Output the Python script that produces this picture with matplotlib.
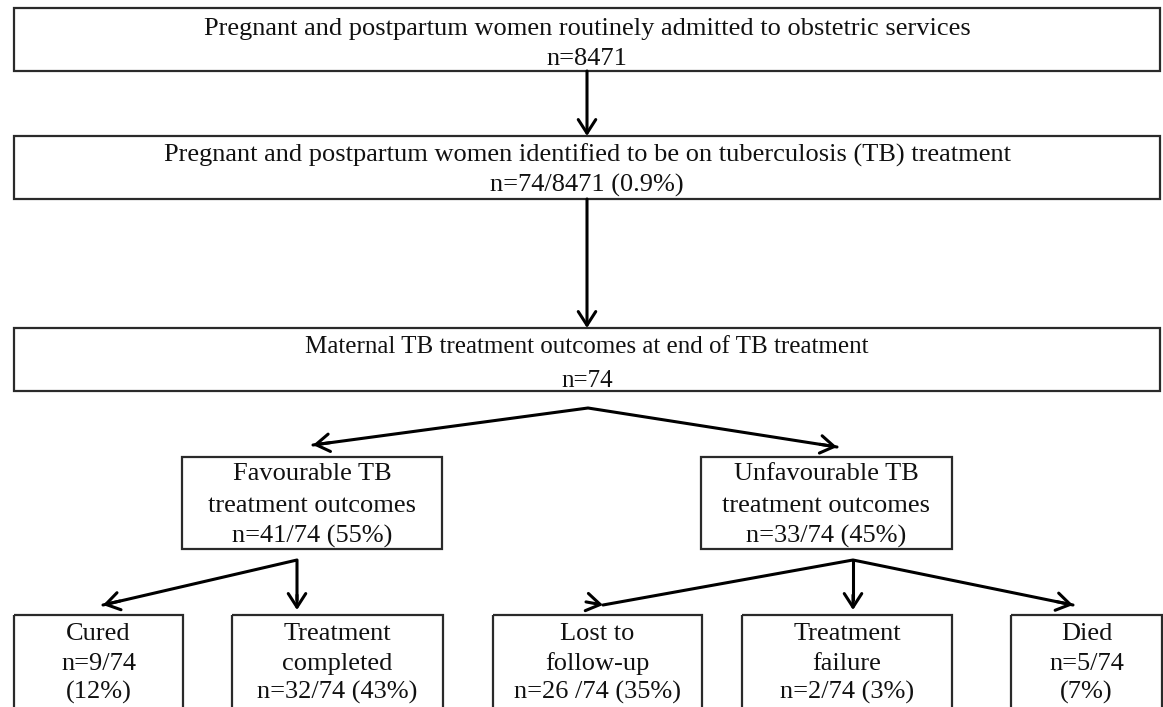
import matplotlib
matplotlib.use('Agg')
import matplotlib.pyplot as plt
from matplotlib.patches import Rectangle

# counts shown in the flow diagram
admitted = 8471
on_tb = 74
outcome_names = [['Favourable TB', 'treatment outcomes'], ['Unfavourable TB', 'treatment outcomes']]
outcome_n = [41, 33]
outcome_pct = ['55%', '45%']
sub_names = [['Cured'], ['Treatment', 'completed'], ['Lost to', 'follow-up'],
             ['Treatment', 'failure'], ['Died']]
sub_n = [9, 32, 26, 2, 5]
sub_pct = ['12%', '43%', '35%', '3%', '7%']
sub_slash = ['/', '/', ' /', '/', '/']


def main():
    plt.rcParams['font.family'] = ['Liberation Serif', 'DejaVu Serif']
    fig = plt.figure(figsize=(11.63, 7.07), dpi=100)
    ax = fig.add_axes([0, 0, 1, 1])
    ax.set_xlim(0, 1163)
    ax.set_ylim(707, 0)
    ax.axis('off')

    edge = '#2a2a2a'

    def box(x0, x1, y0, y1, lines, baselines, fs=19):
        ax.add_patch(Rectangle((x0, y0), x1 - x0, y1 - y0, fill=False,
                               edgecolor=edge, linewidth=1.6))
        for t, yb in zip(lines, baselines):
            ax.text((x0 + x1) / 2, yb, t, ha='center', va='baseline',
                    fontsize=fs, color='#111111')

    def arrow(p0, p1):
        ax.annotate('', xy=p1, xytext=p0,
                    arrowprops=dict(arrowstyle='->,head_length=0.7,head_width=0.45',
                                    mutation_scale=14, lw=2.2, color='black',
                                    shrinkA=0, shrinkB=0))

    def line(pts):
        ax.plot([p[0] for p in pts], [p[1] for p in pts], color='black', lw=2.2,
                solid_capstyle='round', solid_joinstyle='round')

    # top stages
    box(14, 1160, 8, 71,
        ['Pregnant and postpartum women routinely admitted to obstetric services',
         'n=%d' % admitted], [35, 65])
    box(14, 1160, 136, 199,
        ['Pregnant and postpartum women identified to be on tuberculosis (TB) treatment',
         'n=%d/%d (%.1f%%)' % (on_tb, admitted, 100 * on_tb / admitted)], [162, 192])
    box(14, 1160, 328, 391,
        ['Maternal TB treatment outcomes at end of TB treatment', 'n=%d' % on_tb],
        [353, 387], fs=18)
    arrow((587, 71), (587, 136))
    arrow((587, 199), (587, 328))

    # favourable / unfavourable
    mid_x = [(182, 442), (701, 952)]
    for (x0, x1), name, n, p in zip(mid_x, outcome_names, outcome_n, outcome_pct):
        box(x0, x1, 457, 549, name + ['n=%d/%d (%s)' % (n, on_tb, p)], [480, 512, 543])
    line([(313, 445), (588, 408), (837, 447)])
    arrow((330, 442.7), (313, 445))
    arrow((820, 444.3), (837, 447))

    # final outcomes
    sub_x = [(14, 183), (232, 443), (493, 702), (742, 952), (1011, 1162)]
    for (x0, x1), name, n, p, sl in zip(sub_x, sub_names, sub_n, sub_pct, sub_slash):
        if len(name) == 1:
            rows = name + ['n=%d%s%d' % (n, sl, on_tb), '(%s)' % p]
        else:
            rows = name + ['n=%d%s%d (%s)' % (n, sl, on_tb, p)]
        box(x0, x1, 615, 712, rows, [640, 670, 699])

    line([(103, 605), (297, 560), (297, 600)])
    arrow((120, 601), (103, 605))
    arrow((297, 595), (297, 610))
    line([(603, 605), (853, 560), (1073, 605)])
    line([(853, 560), (853, 600)])
    arrow((586, 601.9), (603, 605))
    arrow((853, 595), (853, 610))
    arrow((1056, 601.5), (1073, 605))

    fig.savefig('out.png', dpi=100, facecolor='white')


if __name__ == '__main__':
    main()
